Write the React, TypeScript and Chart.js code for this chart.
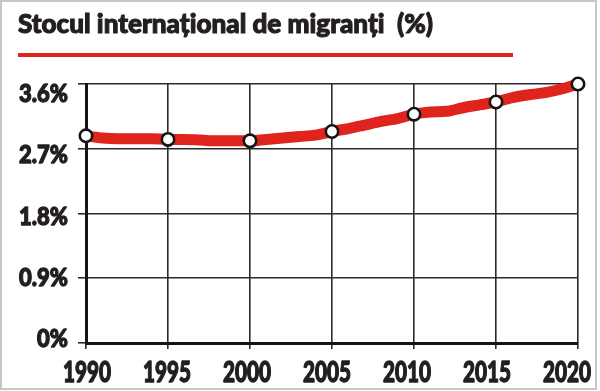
import React, { useEffect, useRef } from "react";
import { Chart, registerables, LinearScale } from "chart.js";

// ---- data ----
const years = [
  1990, 1991, 1992, 1993, 1994, 1995, 1996, 1997, 1998, 1999, 2000,
  2001, 2002, 2003, 2004, 2005, 2006, 2007, 2008, 2009, 2010,
  2011, 2012, 2013, 2014, 2015, 2016, 2017, 2018, 2019, 2020,
];
const migrantShare = [
  2.88, 2.85, 2.84, 2.84, 2.84, 2.83, 2.83, 2.82, 2.81, 2.81, 2.81,
  2.83, 2.85, 2.87, 2.89, 2.94, 2.98, 3.03, 3.08, 3.12, 3.18,
  3.21, 3.22, 3.27, 3.31, 3.35, 3.41, 3.45, 3.48, 3.53, 3.6,
];
const markerYears = [1990, 1995, 2000, 2005, 2010, 2015, 2020];
const xTickValues = [1990, 1995, 2000, 2005, 2010, 2015, 2020];
const yTickValues = [0, 0.9, 1.8, 2.7, 3.6];
const titleText = "Stocul internațional de migranți  (%)";

// ---- styles ----
const FONT = "Lato, Inter, Roboto, 'Liberation Sans', sans-serif";
const RED = "#de241d";
const TEXT = "#231f20";
const GRID = "#2b2b2b";
const AXIS = "#151515";
const TITLE_WIDTH = 415;
// label rows/columns sit slightly off the grid lines in the original,
// so they are drawn on their own label scales
const X_LABEL_MIN = 1989.9375;
const X_LABEL_MAX = 2020.6875;
const Y_LABEL_MIN = -0.0588;
const Y_LABEL_MAX = 3.747;
const SQUEEZE: Record<string, number> = { xLabels: 0.74, yLabels: 0.88 };
const EMBOLDEN = 1.3;

// linear scale whose tick labels are drawn horizontally condensed and heavier
// (imitates a bold condensed typeface)
class SqueezedLinearScale extends (LinearScale as any) {
  static id = "squeezedLinear";
  static defaults = (LinearScale as any).defaults;
  drawLabels(chartArea: any) {
    const self: any = this;
    if (!self.options.ticks.display) return;
    const ctx: CanvasRenderingContext2D = self.ctx;
    const items = self.getLabelItems(chartArea);
    const sq = SQUEEZE[self.id] ?? 1;
    for (const item of items) {
      const o = item.options;
      ctx.save();
      ctx.translate(o.translation[0], o.translation[1]);
      if (o.rotation) ctx.rotate(o.rotation);
      ctx.scale(sq, 1);
      ctx.font = item.font.string;
      ctx.fillStyle = o.color;
      ctx.strokeStyle = o.color;
      ctx.lineWidth = EMBOLDEN;
      ctx.lineJoin = "round";
      ctx.textAlign = o.textAlign;
      ctx.textBaseline = o.textBaseline;
      const lines = Array.isArray(item.label) ? item.label : [item.label];
      let y = item.textOffset;
      for (const line of lines) {
        ctx.fillText(String(line), 0, y);
        ctx.strokeText(String(line), 0, y);
        y += item.font.lineHeight;
      }
      ctx.restore();
    }
  }
}

Chart.register(...registerables, SqueezedLinearScale as any);

export default function App() {
  const canvasRef = useRef<HTMLCanvasElement>(null);
  const titleRef = useRef<HTMLSpanElement>(null);

  useEffect(() => {
    const t = titleRef.current;
    if (t) {
      t.style.transform = "none";
      const w = t.getBoundingClientRect().width;
      if (w > 0) t.style.transform = `scaleX(${TITLE_WIDTH / w})`;
    }

    const linePts = years.map((yr, i) => ({ x: yr, y: migrantShare[i] }));
    const markerPts = markerYears.map((yr) => ({ x: yr, y: migrantShare[years.indexOf(yr)] }));

    const chart = new Chart(canvasRef.current as HTMLCanvasElement, {
      type: "line",
      data: {
        datasets: [
          {
            data: linePts,
            borderColor: RED,
            borderWidth: 11,
            pointRadius: 0,
            cubicInterpolationMode: "monotone",
            borderCapStyle: "round",
            borderJoinStyle: "round",
            clip: false,
            order: 1,
            xAxisID: "x",
            yAxisID: "y",
          } as any,
          {
            data: markerPts,
            showLine: false,
            pointRadius: 6.2,
            pointBorderWidth: 2.6,
            pointBackgroundColor: "#ffffff",
            pointBorderColor: "#141414",
            clip: false,
            order: 0,
            xAxisID: "x",
            yAxisID: "y",
          } as any,
        ],
      },
      options: {
        responsive: false,
        animation: false,
        devicePixelRatio: 1,
        layout: { padding: { top: 84, right: 22, bottom: 0, left: 0 }, autoPadding: false },
        plugins: {
          legend: { display: false },
          tooltip: { enabled: false },
          title: { display: false },
        },
        scales: {
          x: {
            type: "linear",
            position: "bottom",
            min: 1990,
            max: 2020,
            weight: 0,
            afterBuildTicks: (s: any) => {
              s.ticks = xTickValues.map((v) => ({ value: v }));
            },
            afterFit: (s: any) => {
              s.height = 0;
              s.paddingLeft = 0;
              s.paddingRight = 0;
            },
            grid: { color: GRID, lineWidth: 1.6, tickLength: 6 },
            border: { color: AXIS, width: 3 },
            ticks: { display: false },
          },
          xLabels: {
            type: "squeezedLinear",
            position: "bottom",
            min: X_LABEL_MIN,
            max: X_LABEL_MAX,
            weight: 1,
            afterBuildTicks: (s: any) => {
              s.ticks = xTickValues.map((v) => ({ value: v }));
            },
            afterFit: (s: any) => {
              s.height = 48;
              s.paddingLeft = 0;
              s.paddingRight = 0;
            },
            grid: { display: false, drawTicks: false },
            border: { display: false },
            ticks: {
              font: { family: FONT, weight: 900, size: 28 },
              color: TEXT,
              padding: 13,
              maxRotation: 0,
              minRotation: 0,
              autoSkip: false,
              callback: (v: any) => String(v),
            },
          },
          y: {
            type: "linear",
            position: "left",
            min: 0,
            max: 3.6,
            weight: 0,
            afterBuildTicks: (s: any) => {
              s.ticks = yTickValues.map((v) => ({ value: v }));
            },
            afterFit: (s: any) => {
              s.width = 0;
              s.paddingTop = 0;
              s.paddingBottom = 0;
            },
            grid: { color: GRID, lineWidth: 1.6, tickLength: 8 },
            border: { color: AXIS, width: 3 },
            ticks: { display: false },
          },
          yLabels: {
            type: "squeezedLinear",
            position: "left",
            min: Y_LABEL_MIN,
            max: Y_LABEL_MAX,
            weight: 1,
            afterBuildTicks: (s: any) => {
              s.ticks = yTickValues.map((v) => ({ value: v }));
            },
            afterFit: (s: any) => {
              s.width = 86;
              s.paddingTop = 0;
              s.paddingBottom = 0;
            },
            grid: { display: false, drawTicks: false },
            border: { display: false },
            ticks: {
              font: { family: FONT, weight: 900, size: 25 },
              color: TEXT,
              padding: 18,
              callback: (v: any) => (v === 0 ? "0%" : Number(v).toFixed(1) + "%"),
            },
          },
        } as any,
      },
    });
    return () => chart.destroy();
  }, []);

  return (
    <div
      style={{
        position: "absolute",
        left: 0,
        top: 0,
        width: 600,
        height: 391,
        background: "#ffffff",
        overflow: "hidden",
      }}
    >
      <div
        style={{
          position: "absolute",
          left: 0,
          top: 0,
          width: 597,
          height: 390,
          boxSizing: "border-box",
          border: "2px solid #c6c6c6",
        }}
      />
      <canvas
        ref={canvasRef}
        width={600}
        height={391}
        style={{ position: "absolute", left: 0, top: 0, width: 600, height: 391 }}
      />
      <div
        style={{
          position: "absolute",
          left: 18,
          top: 9,
          fontFamily: FONT,
          fontWeight: 900,
          fontSize: 27,
          lineHeight: "27px",
          whiteSpace: "pre",
          color: TEXT,
          WebkitTextStroke: "1.1px " + TEXT,
        }}
      >
        <span ref={titleRef} style={{ display: "inline-block", transformOrigin: "0 0" }}>
          {titleText}
        </span>
      </div>
      <div
        style={{
          position: "absolute",
          left: 18,
          top: 53,
          width: 495,
          height: 4,
          background: RED,
        }}
      />
    </div>
  );
}
